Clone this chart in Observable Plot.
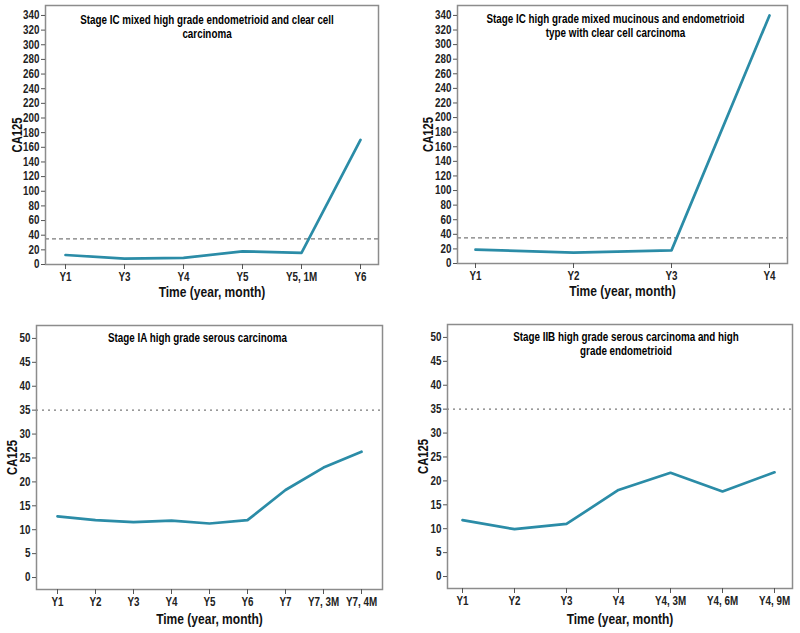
<!DOCTYPE html>
<html>
<head>
<meta charset="utf-8">
<script src="https://cdn.jsdelivr.net/npm/d3@7"></script>
<script src="https://cdn.jsdelivr.net/npm/@observablehq/plot@0.6"></script>
<style>
  body { margin: 0; background: #fff; }
  #wrap { position: relative; width: 800px; height: 633px; }
  .panel { position: absolute; }
</style>
</head>
<body>
<div id="wrap"></div>
<script>
// ---- data ----
const titles = [
  "Stage IC mixed high grade endometrioid and clear cell\ncarcinoma",
  "Stage IC high grade mixed mucinous and endometrioid\ntype with clear cell carcinoma",
  "Stage IA high grade serous carcinoma",
  "Stage IIB high grade serous carcinoma and high\ngrade endometrioid"
];
const cats1 = ["Y1", "Y3", "Y4", "Y5", "Y5, 1M", "Y6"];
const vals1 = [13, 8, 9, 18, 16, 170];
const cats2 = ["Y1", "Y2", "Y3", "Y4"];
const vals2 = [19, 15, 18, 340];
const cats3 = ["Y1", "Y2", "Y3", "Y4", "Y5", "Y6", "Y7", "Y7, 3M", "Y7, 4M"];
const vals3 = [12.8, 12.0, 11.6, 11.9, 11.3, 12.0, 18.3, 23.0, 26.3];
const cats4 = ["Y1", "Y2", "Y3", "Y4", "Y4, 3M", "Y4, 6M", "Y4, 9M"];
const vals4 = [11.8, 9.9, 11.0, 18.1, 21.7, 17.8, 21.8];
const refValue = 35;
const ticksHigh = d3.range(0, 341, 20);
const ticksLow = d3.range(0, 51, 5);
const xLabel = "Time (year, month)";
const yLabel = "CA125";

// ---- drawing ----
const font = "'Liberation Sans', Arial, sans-serif";
const lineColor = "#2b8ca7";

// horizontally condense text (the reference uses a narrow face)
function condense(svg) {
  d3.select(svg).selectAll("text").each(function () {
    const g = this.closest("g");
    let k = 0.82;
    if (g && g.classList.contains("title")) k = 0.82;
    if (g && g.classList.contains("xlab")) k = 0.86;
    if (g && g.classList.contains("ylab")) k = 0.8;
    let t = this.getAttribute("transform");
    if (!t) {
      const x = this.getAttribute("x") || 0, y = this.getAttribute("y") || 0;
      this.removeAttribute("x"); this.removeAttribute("y");
      t = `translate(${x},${y})`;
    }
    this.setAttribute("transform", `${t} scale(${k},1)`);
  });
}

function panel(cfg) {
  const data = cfg.cats.map((c, i) => ({c, v: cfg.vals[i]}));
  const chart = Plot.plot({
    width: cfg.W,
    height: cfg.H,
    marginTop: cfg.m[0], marginRight: cfg.m[1], marginBottom: cfg.m[2], marginLeft: cfg.m[3],
    style: {fontFamily: font, fontSize: "12px", color: "#1a1a1a", background: "#fff"},
    x: {type: "point", domain: cfg.cats, padding: 0, insetLeft: cfg.inset[0], insetRight: cfg.inset[1]},
    y: {domain: cfg.yDomain},
    marks: [
      Plot.ruleY([refValue], {stroke: "#7a7a7a", strokeWidth: 1.2, strokeDasharray: cfg.dash}),
      Plot.line(data, {x: "c", y: "v", stroke: lineColor, strokeWidth: 2.7}),
      Plot.frame({stroke: "#8c8c8c", strokeWidth: 1.5}),
      Plot.axisX({tickSize: 5, tickPadding: 3, label: null, stroke: "#555", fontSize: 12, fontWeight: "bold", fill: "#222"}),
      Plot.axisY({ticks: cfg.ticks, tickSize: 4, tickPadding: 2, label: null, stroke: "#555", fontSize: 12, fontWeight: "bold", fill: "#222"}),
      Plot.text([cfg.title], {frameAnchor: "top", dx: cfg.titleDx, dy: cfg.titleDy, fontSize: 12, fontWeight: "bold", lineHeight: 1.2, fill: "#000", className: "title"}),
      Plot.text([xLabel], {frameAnchor: "bottom", dy: cfg.xLabDy, fontSize: 14, fontWeight: "bold", fill: "#111", className: "xlab"}),
      Plot.text([yLabel], {frameAnchor: "left", dx: cfg.yLabDx, rotate: -90, textAnchor: "middle", fontSize: 14, fontWeight: "bold", fill: "#111", className: "ylab"})
    ]
  });
  const div = document.createElement("div");
  div.className = "panel";
  div.style.left = cfg.left + "px";
  div.style.top = cfg.top + "px";
  div.appendChild(chart);
  document.getElementById("wrap").appendChild(div);
  condense(chart);
}

panel({cats: cats1, vals: vals1, title: titles[0], left: 0, top: 0, W: 400, H: 300,
  m: [5, 22, 36, 45], inset: [19, 18], yDomain: [0, 353.6], ticks: ticksHigh, dash: "4,3",
  titleDx: -5, titleDy: 8, xLabDy: 32, yLabDx: -28});
panel({cats: cats2, vals: vals2, title: titles[1], left: 400, top: 0, W: 400, H: 300,
  m: [5, 13, 37, 57], inset: [18, 18], yDomain: [0, 353.6], ticks: ticksHigh, dash: "4,3",
  titleDx: -7, titleDy: 7, xLabDy: 32, yLabDx: -29});
panel({cats: cats3, vals: vals3, title: titles[2], left: 0, top: 300, W: 400, H: 333,
  m: [25, 18, 44, 36], inset: [18, 18], yDomain: [-2.5, 52.7], ticks: ticksLow, dash: "2,4",
  titleDx: -12, titleDy: 6, xLabDy: 34, yLabDx: -24});
panel({cats: cats4, vals: vals4, title: titles[3], left: 400, top: 300, W: 400, H: 333,
  m: [24, 8, 45, 47], inset: [13, 16], yDomain: [-2.5, 52.7], ticks: ticksLow, dash: "2,4",
  titleDx: 6, titleDy: 6, xLabDy: 35, yLabDx: -24});
</script>
</body>
</html>
